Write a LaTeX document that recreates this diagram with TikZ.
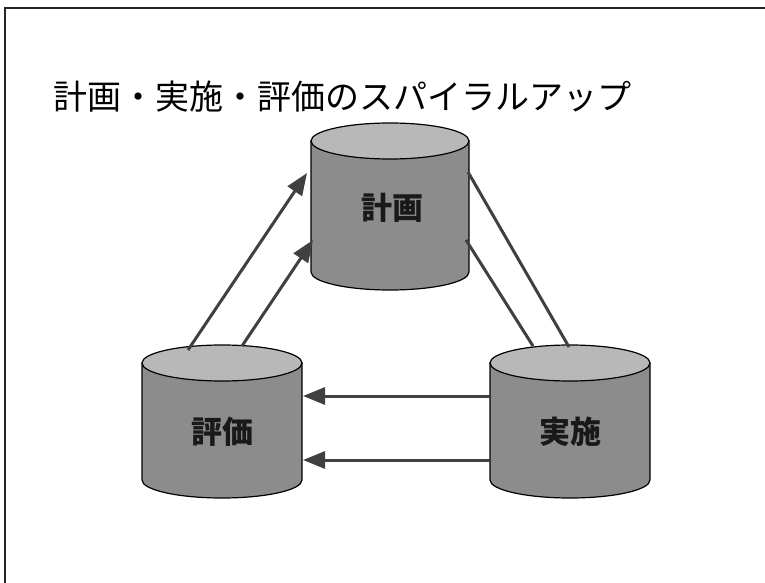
\documentclass[tikz,border=0pt]{standalone}
\usepackage{fontspec}
\newfontfamily\jp{Noto Sans CJK JP}
\usetikzlibrary{arrows.meta}
\tikzset{
  frameline/.style={line width=1.6pt, black!85},
  body/.style={fill=black!45, draw=black, line width=1.2pt},
  lid/.style={fill=black!28, draw=black, line width=1.2pt},
  conn/.style={line width=3pt, black!75},
  arr/.style={conn, -{Triangle[length=22pt,width=17pt]}},
  lbl/.style={font=\jp\bfseries\fontsize{31}{31}\selectfont, text=black!90, inner sep=0pt},
  ttl/.style={font=\jp\fontsize{34}{34}\selectfont, anchor=west, inner sep=0pt}
}
\newcommand{\cyl}[5]{% cx, ytop, ybottom, rx, ry (image coords, y down)
  \path[body] (#1-#4,-#2) -- (#1-#4,-#3) arc[start angle=180,end angle=360,x radius=#4,y radius=#5] -- (#1+#4,-#2) -- cycle;
  \path[lid] (#1,-#2) ellipse[x radius=#4,y radius=#5];
}
\begin{document}
\begin{tikzpicture}[x=1pt,y=1pt]
\useasboundingbox (0,0) rectangle (765,-583);
% frame (top and left only)
\draw[frameline] (765,-8) -- (5,-8) -- (5,-583);
% title
\node[ttl] (title) at (53,-97) {計画・実施・評価のスパイラルアップ};
% cylinders
\cyl{390}{141}{272}{79}{18}
\cyl{222}{363}{480}{80}{18}
\cyl{570}{363}{480}{80}{18}
% labels
\node[lbl] (keikaku) at (392,-208) {計画};
\node[lbl] (hyoka) at (222,-432) {評価};
\node[lbl] (jisshi) at (570,-432) {実施};
% connector end points
\coordinate (h1) at (188,-350);
\coordinate (k1) at (307,-173);
\coordinate (h2) at (242,-346);
\coordinate (k2) at (313,-240);
\coordinate (k3) at (468,-172);
\coordinate (j3) at (569,-347);
\coordinate (k4) at (466,-240);
\coordinate (j4) at (533,-346);
\coordinate (j5) at (490,-396);
\coordinate (h5) at (303,-396);
\coordinate (j6) at (490,-460);
\coordinate (h6) at (303,-460);
% connectors
\draw[arr] (h1) -- (k1);
\draw[arr] (h2) -- (k2);
\draw[conn] (k3) -- (j3);
\draw[conn] (k4) -- (j4);
\draw[arr] (j5) -- (h5);
\draw[arr] (j6) -- (h6);
\end{tikzpicture}
\end{document}
